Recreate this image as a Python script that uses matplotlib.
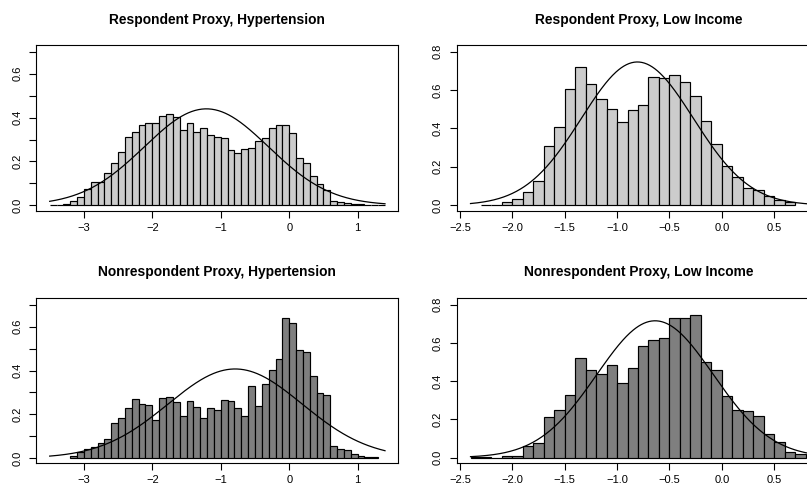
import numpy as np
import matplotlib
matplotlib.use("Agg")
import matplotlib.pyplot as plt

plt.rcParams['font.family'] = ['Liberation Sans', 'DejaVu Sans']

# ---------------- data ----------------
titles = ["Respondent Proxy, Hypertension", "Respondent Proxy, Low Income",
          "Nonrespondent Proxy, Hypertension", "Nonrespondent Proxy, Low Income"]

bin_width = 0.1

# Respondent proxy, hypertension (bins start at -3.5)
rh_start = -3.5
rh_density = [0.001, 0.003, 0.008, 0.018, 0.037, 0.073, 0.107, 0.104, 0.147, 0.192,
              0.243, 0.313, 0.336, 0.366, 0.376, 0.376, 0.408, 0.415, 0.403, 0.345,
              0.374, 0.334, 0.351, 0.322, 0.310, 0.307, 0.252, 0.238, 0.256, 0.260,
              0.293, 0.305, 0.353, 0.365, 0.365, 0.328, 0.215, 0.194, 0.134, 0.095,
              0.070, 0.020, 0.014, 0.009, 0.006, 0.004, 0.003, 0.002, 0.002]
rh_mean, rh_sd = -1.21, 0.907
rh_curve_range = (-3.5, 1.4)

# Respondent proxy, low income (bins start at -2.3)
ri_start = -2.3
ri_density = [0.0, 0.0, 0.016, 0.031, 0.071, 0.128, 0.310, 0.406, 0.607, 0.722,
              0.631, 0.552, 0.500, 0.432, 0.494, 0.522, 0.666, 0.661, 0.678, 0.640,
              0.569, 0.437, 0.321, 0.206, 0.146, 0.088, 0.078, 0.049, 0.028, 0.017]
ri_mean, ri_sd = -0.806, 0.535
ri_curve_range = (-2.4, 0.9)

# Nonrespondent proxy, hypertension (bins start at -3.2)
nh_start = -3.2
nh_density = [0.011, 0.027, 0.043, 0.052, 0.067, 0.087, 0.158, 0.183, 0.228, 0.268,
              0.248, 0.242, 0.175, 0.274, 0.279, 0.254, 0.193, 0.259, 0.233, 0.184,
              0.227, 0.219, 0.265, 0.259, 0.230, 0.193, 0.327, 0.239, 0.338, 0.402,
              0.454, 0.641, 0.617, 0.492, 0.483, 0.375, 0.298, 0.289, 0.056, 0.043,
              0.038, 0.017, 0.011, 0.003, 0.006]
nh_mean, nh_sd = -0.79, 0.98
nh_curve_range = (-3.5, 1.4)

# Nonrespondent proxy, low income (bins start at -2.4)
ni_start = -2.4
ni_density = [0.003, 0.003, 0.0, 0.007, 0.007, 0.059, 0.075, 0.212, 0.247, 0.330,
              0.522, 0.456, 0.440, 0.485, 0.391, 0.470, 0.586, 0.617, 0.628, 0.730,
              0.730, 0.744, 0.503, 0.461, 0.325, 0.247, 0.242, 0.217, 0.125, 0.080,
              0.028, 0.017]
ni_mean, ni_sd = -0.637, 0.557
ni_curve_range = (-2.4, 0.9)

left_xticks = [-3, -2, -1, 0, 1]
left_xlabels = ["\u22123", "\u22122", "\u22121", "0", "1"]
right_xticks = [-2.5, -2.0, -1.5, -1.0, -0.5, 0.0, 0.5]
right_xlabels = ["\u22122.5", "\u22122.0", "\u22121.5", "\u22121.0", "\u22120.5", "0.0", "0.5"]
left_yticks = [0.0, 0.1, 0.2, 0.3, 0.4, 0.5, 0.6, 0.7]
left_ylabels = ["0.0", "", "0.2", "", "0.4", "", "0.6", ""]
right_yticks = [0.0, 0.2, 0.4, 0.6, 0.8]
right_ylabels = ["0.0", "0.2", "0.4", "0.6", "0.8"]

# ---------------- figure ----------------
W, H = 807, 491
fig = plt.figure(figsize=(W / 100, H / 100), dpi=100)


def px_axes(l, r, t, b):
    return fig.add_axes([l / W, 1 - b / H, (r - l) / W, (b - t) / H])


light = "#cccccc"
dark = "#7f7f7f"

panels = [
    dict(box=(36, 398, 45, 211), start=rh_start, dens=rh_density, mu=rh_mean, sd=rh_sd,
         cr=rh_curve_range, color=light, xlim=(-3.70, 1.59), ylim=(-0.026, 0.731),
         xt=left_xticks, xl=left_xlabels, yt=left_yticks, yl=left_ylabels,
         title=titles[0], tx=217, ty=24),
    dict(box=(456.7, 821, 45, 211), start=ri_start, dens=ri_density, mu=ri_mean, sd=ri_sd,
         cr=ri_curve_range, color=light, xlim=(-2.532, 0.948), ylim=(-0.030, 0.834),
         xt=right_xticks, xl=right_xlabels, yt=right_yticks, yl=right_ylabels,
         title=titles[1], tx=639, ty=24),
    dict(box=(36, 398, 298.3, 463.3), start=nh_start, dens=nh_density, mu=nh_mean, sd=nh_sd,
         cr=nh_curve_range, color=dark, xlim=(-3.70, 1.59), ylim=(-0.024, 0.730),
         xt=left_xticks, xl=left_xlabels, yt=left_yticks, yl=left_ylabels,
         title=titles[2], tx=217, ty=275.7),
    dict(box=(456.7, 821, 298.3, 463.3), start=ni_start, dens=ni_density, mu=ni_mean, sd=ni_sd,
         cr=ni_curve_range, color=dark, xlim=(-2.532, 0.948), ylim=(-0.030, 0.834),
         xt=right_xticks, xl=right_xlabels, yt=right_yticks, yl=right_ylabels,
         title=titles[3], tx=639, ty=275.7),
]

for p in panels:
    ax = px_axes(*p["box"])
    dens = np.asarray(p["dens"])
    lefts = np.round(p["start"] + bin_width * np.arange(len(dens)), 3)
    ax.bar(lefts, dens, width=bin_width, align="edge", color=p["color"],
           edgecolor="black", linewidth=0.85, zorder=2)
    xs = np.linspace(p["cr"][0], p["cr"][1], 400)
    ys = np.exp(-0.5 * ((xs - p["mu"]) / p["sd"]) ** 2) / (p["sd"] * np.sqrt(2 * np.pi))
    ax.plot(xs, ys, color="black", linewidth=0.9, zorder=3)
    ax.set_xlim(*p["xlim"])
    ax.set_ylim(*p["ylim"])
    ax.set_xticks(p["xt"])
    ax.set_xticklabels(p["xl"])
    ax.set_yticks(p["yt"])
    ax.set_yticklabels(p["yl"])
    for s in ax.spines.values():
        s.set_linewidth(0.8)
        s.set_color("black")
    ax.tick_params(axis="both", direction="out", length=4.8, width=0.8,
                   labelsize=8, colors="black")
    ax.tick_params(axis="x", pad=3.8)
    ax.tick_params(axis="y", pad=5.0, labelrotation=90)
    for lab in ax.get_yticklabels():
        lab.set_va("center")
    fig.text(p["tx"] / W, 1 - p["ty"] / H, p["title"], ha="center", va="baseline",
             fontsize=9.9, fontweight="bold")

fig.savefig("out.png", dpi=100)
